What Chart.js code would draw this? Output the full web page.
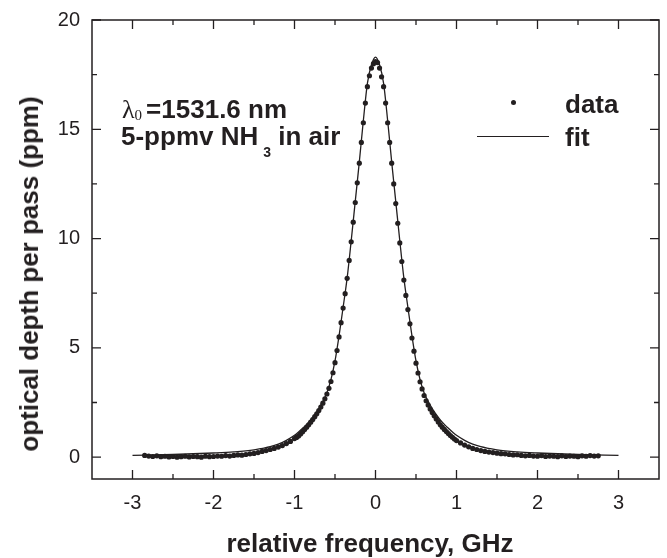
<!DOCTYPE html>
<html><head><meta charset="utf-8">
<script src="https://cdn.jsdelivr.net/npm/chart.js@4"></script>
<style>
html,body{margin:0;padding:0;background:#fff;}
#wrap{position:relative;width:667px;height:558px;overflow:hidden;}
canvas{position:absolute;left:0;top:0;}
.t{position:absolute;white-space:nowrap;font-family:"Liberation Sans",Arial,sans-serif;font-weight:bold;font-size:26px;line-height:26px;color:#231f20;}
.s{font-family:"Liberation Serif","Times New Roman",serif;font-weight:normal;}
</style></head><body>
<div id="wrap">
<canvas id="c" width="667" height="558"></canvas>
<div class="t" style="left:29px;top:274px;transform:translate(-50%,-50%) rotate(-90deg);">optical depth per pass (ppm)</div>
<div class="t" style="left:370px;top:530px;transform:translateX(-50%);">relative frequency, GHz</div>
<div class="t" style="left:122px;top:96px;"><span class="s">λ</span><span class="s" style="font-size:15px;position:relative;top:2px;margin-right:4px;">0</span>=1531.6 nm</div>
<div class="t" style="left:121px;top:123px;">5-ppmv NH<span style="font-size:14px;position:relative;top:12px;margin-left:5px;">3</span> in air</div>
<div style="position:absolute;left:511px;top:100px;width:5px;height:5px;border-radius:50%;background:#231f20;"></div>
<div class="t" style="left:565px;top:91px;">data</div>
<div style="position:absolute;left:477px;top:136px;width:72px;height:1.3px;background:#231f20;"></div>
<div class="t" style="left:565px;top:124px;">fit</div>
</div>
<script>
// measured data (relative frequency in GHz, optical depth per pass in ppm)
const dataFreq = [
  -2.85,-2.8,-2.75,-2.7,-2.65,-2.6,-2.55,-2.5,-2.45,-2.4,
  -2.35,-2.3,-2.25,-2.2,-2.15,-2.1,-2.05,-2.0,-1.95,-1.9,
  -1.85,-1.8,-1.75,-1.7,-1.65,-1.6,-1.55,-1.5,-1.45,-1.4,
  -1.35,-1.3,-1.25,-1.2,-1.15,-1.1,-1.05,-1.0,
  -0.975,-0.95,-0.925,-0.9,-0.875,-0.85,-0.825,-0.8,-0.775,-0.75,
  -0.725,-0.7,-0.675,-0.65,-0.625,-0.6,-0.575,-0.55,-0.525,-0.5,
  -0.475,-0.45,-0.425,-0.4,-0.375,-0.35,-0.325,-0.3,-0.275,-0.25,
  -0.225,-0.2,-0.175,-0.15,-0.125,-0.1,-0.075,-0.05,-0.025,
  0,
  0.025,0.05,0.075,0.1,0.125,0.15,0.175,0.2,0.225,0.25,
  0.275,0.3,0.325,0.35,0.375,0.4,0.425,0.45,0.475,0.5,
  0.525,0.55,0.575,0.6,0.625,0.65,0.675,0.7,0.725,0.75,
  0.775,0.8,0.825,0.85,0.875,0.9,0.925,0.95,0.975,
  1.0,1.05,1.1,1.15,1.2,1.25,1.3,1.35,1.4,1.45,
  1.5,1.55,1.6,1.65,1.7,1.75,1.8,1.85,1.9,1.95,
  2.0,2.05,2.1,2.15,2.2,2.25,2.3,2.35,2.4,2.45,
  2.5,2.55,2.6,2.65,2.7,2.75
];
const dataDepth = [
  0.08,0.05,0.03,0.06,0.02,0.04,0.01,0.03,0.0,0.02,
  0.04,0.01,0.03,0.02,0.0,0.04,0.02,0.03,0.05,0.04,
  0.07,0.05,0.08,0.1,0.09,0.12,0.15,0.17,0.21,0.26,
  0.3,0.35,0.4,0.46,0.53,0.62,0.72,0.85,
  0.9,0.97,1.06,1.16,1.26,1.37,1.48,1.6,1.72,1.85,
  1.98,2.13,2.29,2.47,2.67,2.89,3.15,3.46,3.86,4.32,
  4.88,5.5,6.15,6.82,7.48,8.18,9.0,9.85,10.75,11.65,
  12.55,13.45,14.4,15.3,16.2,16.95,17.45,17.8,18.0,
  18.1,
  18.05,17.8,17.4,16.95,16.2,15.3,14.4,13.45,12.5,11.6,
  10.7,9.8,8.95,8.1,7.4,6.75,6.1,5.45,4.85,4.3,
  3.85,3.45,3.12,2.82,2.58,2.38,2.2,2.04,1.89,1.75,
  1.61,1.48,1.37,1.27,1.17,1.08,0.99,0.91,0.83,
  0.76,0.65,0.55,0.47,0.4,0.35,0.3,0.26,0.23,0.21,
  0.18,0.16,0.15,0.12,0.1,0.11,0.08,0.06,0.08,0.05,
  0.04,0.07,0.03,0.05,0.04,0.02,0.06,0.03,0.05,0.04,
  0.02,0.06,0.04,0.07,0.05,0.06
];
// fitted profile
const fitFreq = [
  -3,-2.5,-2,-1.75,-1.5,-1.4,-1.3,-1.2,-1.1,-1.0,
  -0.95,-0.9,-0.85,-0.8,-0.75,-0.7,-0.65,-0.6,-0.55,-0.5,
  -0.45,-0.4,-0.35,-0.3,-0.25,-0.2,-0.15,-0.1,-0.05,0,
  0.05,0.1,0.15,0.2,0.25,0.3,0.35,0.4,0.45,0.5,
  0.55,0.6,0.65,0.7,0.75,0.8,0.85,0.9,0.95,1.0,
  1.1,1.2,1.3,1.4,1.5,1.75,2,2.5,3
];
const fitDepth = [
  0.08,0.12,0.19,0.24,0.33,0.4,0.48,0.6,0.77,1.0,
  1.15,1.32,1.5,1.7,1.95,2.22,2.55,2.95,3.55,4.4,
  5.55,6.85,8.2,9.9,11.7,13.5,15.4,17.1,17.95,18.3,
  17.95,17.1,15.4,13.5,11.7,9.9,8.2,6.85,5.55,4.4,
  3.55,2.95,2.55,2.22,1.95,1.7,1.5,1.32,1.15,1.0,
  0.77,0.6,0.48,0.4,0.33,0.24,0.19,0.12,0.08
];
const xTickValues = [-3,-2,-1,0,1,2,3];
const xMinorValues = [-2.5,-1.5,-0.5,0.5,1.5,2.5];
const yTickValues = [0,5,10,15,20];
const yMinorValues = [2.5,7.5,12.5,17.5];

const ink = '#231f20';
const tickFont = {family:'"Liberation Sans", Arial, sans-serif', size:20};

const frame = {
  id:'frame',
  afterDraw(chart){
    const {ctx, chartArea:a, scales:{x, y}} = chart;
    ctx.save();
    ctx.strokeStyle = ink;
    ctx.lineWidth = 1.5;
    ctx.strokeRect(a.left, a.top, a.right - a.left, a.bottom - a.top);
    ctx.lineWidth = 1.3;
    ctx.beginPath();
    const vx = (v, len) => { const p = x.getPixelForValue(v); ctx.moveTo(p, a.bottom); ctx.lineTo(p, a.bottom - len); ctx.moveTo(p, a.top); ctx.lineTo(p, a.top + len); };
    const vy = (v, len) => { const p = y.getPixelForValue(v); ctx.moveTo(a.left, p); ctx.lineTo(a.left + len, p); ctx.moveTo(a.right, p); ctx.lineTo(a.right - len, p); };
    xTickValues.forEach(v => vx(v, 9));
    xMinorValues.forEach(v => vx(v, 5));
    yTickValues.forEach(v => vy(v, 9));
    yMinorValues.forEach(v => vy(v, 5));
    ctx.stroke();
    ctx.restore();
  }
};

new Chart(document.getElementById('c'), {
  type: 'scatter',
  data: {
    datasets: [
      {
        label: 'fit', type: 'line',
        data: fitFreq.map((f, i) => ({x: f, y: fitDepth[i]})),
        borderColor: ink, borderWidth: 1.3, pointRadius: 0, fill: false,
        cubicInterpolationMode: 'monotone', order: 0
      },
      {
        label: 'data',
        data: dataFreq.map((f, i) => ({x: f, y: dataDepth[i]})),
        pointRadius: 2.6, pointBackgroundColor: ink, pointBorderWidth: 0,
        showLine: false, order: 1
      }
    ]
  },
  options: {
    responsive: false, animation: false, devicePixelRatio: 1,
    layout: {padding: {left: 0, right: 8, top: 20, bottom: 0}},
    plugins: {legend: {display: false}, tooltip: {enabled: false}},
    scales: {
      x: {
        type: 'linear', min: -3.5, max: 3.5,
        grid: {display: false}, border: {display: false},
        afterBuildTicks: s => { s.ticks = xTickValues.map(v => ({value: v})); },
        afterFit: s => { s.height = 79; },
        ticks: {padding: 4, color: ink, font: tickFont, maxRotation: 0, autoSkip: false, callback: v => String(v)}
      },
      y: {
        type: 'linear', min: -1, max: 20,
        grid: {display: false}, border: {display: false},
        afterBuildTicks: s => { s.ticks = yTickValues.map(v => ({value: v})); },
        afterFit: s => { s.width = 92; },
        ticks: {padding: 4, color: ink, font: tickFont, autoSkip: false, callback: v => String(v)}
      }
    }
  },
  plugins: [frame]
});
</script>
</body></html>
